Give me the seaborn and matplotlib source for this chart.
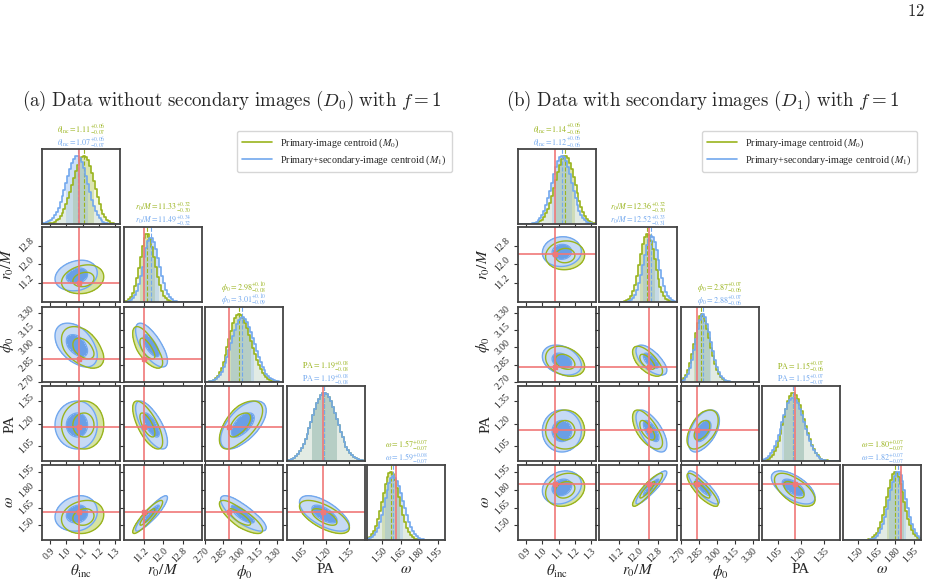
import numpy as np
import pandas as pd
import matplotlib
matplotlib.use("Agg")
import matplotlib.pyplot as plt
import seaborn as sns

sns.set_theme(style="ticks")
plt.rcParams["font.family"] = ["Liberation Serif", "DejaVu Serif"]
plt.rcParams["mathtext.fontset"] = "stix"

# ---------------- data ----------------
labels = [r"$\theta_{\rm inc}$", r"$r_0/M$", r"$\phi_0$", "PA", r"$\omega$"]
short = [r"\theta_{\rm inc}", r"r_0/M", r"\phi_0", r"{\rm PA}", r"\omega"]
ticks = [[0.9, 1.0, 1.1, 1.2, 1.3], [11.2, 12.0, 12.8],
         [2.70, 2.85, 3.00, 3.15, 3.30], [1.05, 1.20, 1.35],
         [1.50, 1.65, 1.80, 1.95]]
tick_fmt = ["%.1f", "%.1f", "%.2f", "%.2f", "%.2f"]
ranges = [(0.85, 1.33), (10.37, 13.6), (2.70, 3.35), (0.95, 1.45), (1.375, 2.01)]

# pair order: (0,1),(0,2),(0,3),(0,4),(1,2),(1,3),(1,4),(2,3),(2,4),(3,4)
pairs = [(0, 1), (0, 2), (0, 3), (0, 4), (1, 2), (1, 3), (1, 4), (2, 3), (2, 4), (3, 4)]

# (a) D0
a_m0_med = [1.11, 11.33, 2.98, 1.19, 1.57]
a_m0_up = [0.06, 0.32, 0.10, 0.08, 0.07]
a_m0_lo = [0.07, 0.30, 0.08, 0.08, 0.07]
a_m1_med = [1.07, 11.49, 3.01, 1.19, 1.59]
a_m1_up = [0.06, 0.34, 0.10, 0.08, 0.08]
a_m1_lo = [0.07, 0.32, 0.09, 0.08, 0.07]
a_truth = [1.08, 11.20, 2.90, 1.18, 1.61]
a_corr = [0.20, -0.45, 0.00, 0.15, -0.70, -0.70, 0.90, 0.60, -0.80, -0.65]

# (b) D1
b_m0_med = [1.14, 12.36, 2.87, 1.15, 1.80]
b_m0_up = [0.06, 0.32, 0.07, 0.07, 0.07]
b_m0_lo = [0.06, 0.30, 0.06, 0.06, 0.07]
b_m1_med = [1.12, 12.52, 2.88, 1.15, 1.82]
b_m1_up = [0.06, 0.33, 0.07, 0.07, 0.07]
b_m1_lo = [0.06, 0.31, 0.06, 0.07, 0.07]
b_truth = [1.08, 12.45, 2.83, 1.16, 1.85]
b_corr = [0.05, -0.30, 0.00, 0.20, -0.65, -0.65, 0.90, 0.50, -0.85, -0.60]

# ---------------- style ----------------
GREEN = "#9ab41e"
BLUE = "#72a8ee"
BLUE_DARK = "#6a9fe6"
BLUE_LIGHT = "#c6daf5"
GREEN_LIGHT = "#d6e3a2"
RED = "#f07878"

W, H = 942, 581
fig = plt.figure(figsize=(W / 100, H / 100), dpi=100)

col_a = [42, 124, 205, 287, 367]
col_b = [518, 599, 681, 762, 843]
row_top = [149, 227, 307, 386, 465]
pw, ph = 78, 75
NB = 40


def uvals(x, m, up, lo):
    return np.where(x >= m, (x - m) / up, (x - m) / lo)


def style_axes(ax):
    for s in ax.spines.values():
        s.set_linewidth(1.3)
        s.set_color("#444444")
    ax.tick_params(direction="out", length=3, width=0.8, labelsize=7, color="#333333",
                   pad=1.5)


def draw_corner(cols, med0, up0, lo0, med1, up1, lo1, truth, corr):
    n = 5
    for i in range(n):
        for j in range(i + 1):
            x0 = cols[j] / W
            y0 = 1 - (row_top[i] + ph) / H
            ax = fig.add_axes([x0, y0, pw / W, ph / H])
            style_axes(ax)
            if i == j:
                lo, hi = ranges[i]
                edges = np.linspace(lo, hi, NB + 1)
                cen = 0.5 * (edges[1:] + edges[:-1])
                ymax = 0
                for med, up, le, col in [(med0[i], up0[i], lo0[i], GREEN),
                                         (med1[i], up1[i], lo1[i], BLUE)]:
                    d = np.exp(-0.5 * uvals(cen, med, up, le) ** 2)
                    d = d / d.sum()
                    ymax = max(ymax, d.max())
                    df = pd.DataFrame({"v": cen, "w": d})
                    sns.histplot(data=df, x="v", weights="w", bins=NB, binrange=(lo, hi),
                                 element="step", fill=True, color=col, alpha=0.12,
                                 linewidth=0, ax=ax)
                    sns.histplot(data=df, x="v", weights="w", bins=NB, binrange=(lo, hi),
                                 element="step", fill=False, color=col, linewidth=1.2, ax=ax)
                    # credible-interval shading
                    a, b = med - le, med + up
                    k = np.where((edges[1:] > a) & (edges[:-1] < b))[0]
                    xs = np.clip(edges[k[0]:k[-1] + 2], a, b)
                    ys = np.append(d[k], d[k[-1]])
                    ax.fill_between(xs, ys, step="post", color=col, alpha=0.25, linewidth=0)
                    ax.axvline(med, color=col, ls="--", lw=0.8)
                ax.axvline(truth[i], color=RED, lw=1.2)
                ax.set_ylim(0, 1.1 * ymax)
                ax.set_xlim(*ranges[i])
                ax.set_yticks([])
                ax.set_ylabel("")
                t0 = rf"${short[i]} = {med0[i]:.2f}^{{+{up0[i]:.2f}}}_{{-{lo0[i]:.2f}}}$"
                t1 = rf"${short[i]} = {med1[i]:.2f}^{{+{up1[i]:.2f}}}_{{-{lo1[i]:.2f}}}$"
                ax.text(0.5, 1 + 6.5 / ph, t1, transform=ax.transAxes, ha="center",
                        va="center", fontsize=5.8, color=BLUE)
                ax.text(0.5, 1 + 19.5 / ph, t0, transform=ax.transAxes, ha="center",
                        va="center", fontsize=5.8, color=GREEN)
            else:
                xr, yr = ranges[j], ranges[i]
                gx = np.linspace(*xr, 160)
                gy = np.linspace(*yr, 160)
                X, Y = np.meshgrid(gx, gy)
                rho = corr[pairs.index((j, i))]
                Qs = []
                for med, up, le in [(med0, up0, lo0), (med1, up1, lo1)]:
                    u = uvals(X, med[j], up[j], le[j])
                    v = uvals(Y, med[i], up[i], le[i])
                    Q = (u ** 2 - 2 * rho * u * v + v ** 2) / (1 - rho ** 2)
                    Qs.append(Q)
                ax.contourf(X, Y, Qs[0], levels=[-1, 4], colors=[GREEN_LIGHT])
                ax.contourf(X, Y, Qs[1], levels=[-1, 1, 4], colors=[BLUE_DARK, BLUE_LIGHT])
                ax.contour(X, Y, Qs[1], levels=[1, 4], colors=[BLUE], linewidths=1.0)
                ax.contour(X, Y, Qs[0], levels=[1, 4], colors=[GREEN], linewidths=1.0)
                ax.axvline(truth[j], color=RED, lw=1.2)
                ax.axhline(truth[i], color=RED, lw=1.2)
                ax.plot([truth[j]], [truth[i]], "s", color=RED, ms=3.5)
                ax.set_xlim(*xr)
                ax.set_ylim(*yr)
                ax.set_yticks(ticks[i])
                if j == 0:
                    ax.set_yticklabels([tick_fmt[i] % t for t in ticks[i]], rotation=45,
                                       va="center")
                    ax.set_ylabel(labels[i], fontsize=11)
                    ax.yaxis.set_label_coords(-0.33, 0.5)
                else:
                    ax.set_yticklabels([])
            ax.set_xticks(ticks[j])
            if i == n - 1:
                ax.set_xticklabels([tick_fmt[j] % t for t in ticks[j]], rotation=45,
                                   ha="right", rotation_mode="anchor")
                ax.set_xlabel(labels[j], fontsize=11)
                ax.xaxis.set_label_coords(0.5, -0.31)
            else:
                ax.set_xticklabels([])
                ax.set_xlabel("")
            ax.set_xlim(*ranges[j])


draw_corner(col_a, a_m0_med, a_m0_up, a_m0_lo, a_m1_med, a_m1_up, a_m1_lo, a_truth, a_corr)
draw_corner(col_b, b_m0_med, b_m0_up, b_m0_lo, b_m1_med, b_m1_up, b_m1_lo, b_truth, b_corr)

# legends
from matplotlib.lines import Line2D
handles = [Line2D([], [], color=GREEN, lw=1.2), Line2D([], [], color=BLUE, lw=1.2)]
names = [r"Primary-image centroid ($M_0$)", r"Primary+secondary-image centroid ($M_1$)"]
for xr in (457, 922):
    fig.legend(handles, names, loc="upper right", bbox_to_anchor=(xr / W, 1 - 126 / H),
               fontsize=7.3, frameon=True, fancybox=True, edgecolor="#cccccc",
               handlelength=3.0, borderpad=0.5, labelspacing=0.4)

# titles and page number
fig.text(232 / W, 1 - 101 / H,
         r"$\mathrm{(a)\ Data\ without\ secondary\ images\ (}D_0\mathrm{)\ with\ }f=1$",
         ha="center", va="center", fontsize=13.6, math_fontfamily="cm")
fig.text(703 / W, 1 - 101 / H,
         r"$\mathrm{(b)\ Data\ with\ secondary\ images\ (}D_1\mathrm{)\ with\ }f=1$",
         ha="center", va="center", fontsize=13.6, math_fontfamily="cm")
fig.text(916 / W, 1 - 12 / H, r"$\mathrm{12}$", ha="center", va="center",
         fontsize=12, math_fontfamily="cm")

fig.savefig("out.png", dpi=100)
